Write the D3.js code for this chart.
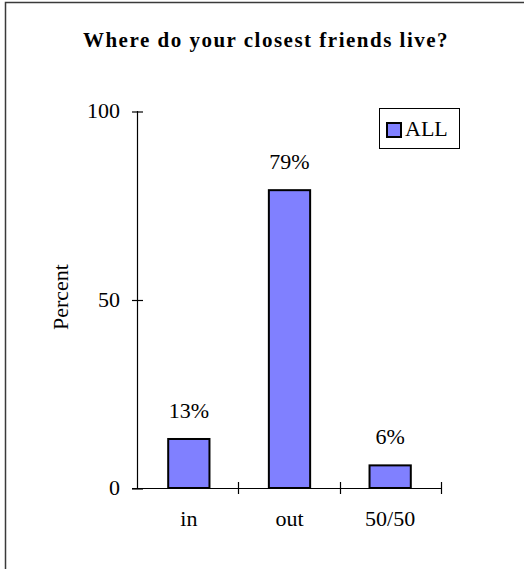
<!DOCTYPE html>
<html>
<head>
<meta charset="utf-8">
<script src="https://cdn.jsdelivr.net/npm/d3@7/dist/d3.min.js"></script>
<style>
  html, body { margin: 0; padding: 0; background: #fff; }
  svg { display: block; }
  text { font-family: "Liberation Serif", "Times New Roman", serif; fill: #000; }
</style>
</head>
<body>
<svg id="chart" width="524" height="569"></svg>
<script>
// Survey answers
const categories = ["in", "out", "50/50"];
const percentValues = [13, 79, 6];
const yTicks = [0, 50, 100];
const seriesName = "ALL";
const chartTitle = "Where do your closest friends live?";
const yLabel = "Percent";

const svg = d3.select("#chart");
const W = 524, H = 569;
const FONT = "22px";

// outer frame (right/bottom edges fall outside the view)
svg.append("rect")
  .attr("x", 5.5).attr("y", 2.5)
  .attr("width", W + 10).attr("height", H + 10)
  .attr("fill", "#fff").attr("stroke", "#3a3a3a").attr("stroke-width", 1.5);

const plot = { left: 137, right: 441, top: 111, bottom: 488 };

const x = d3.scaleBand()
  .domain(categories)
  .range([plot.left + 1, plot.right])
  .paddingInner(0.59)
  .paddingOuter(0.3);

const y = d3.scaleLinear().domain([0, 100]).range([plot.bottom, plot.top]);

// title
svg.append("text")
  .attr("x", 266).attr("y", 47)
  .attr("text-anchor", "middle")
  .style("font-size", "21px").style("font-weight", "bold")
  .style("letter-spacing", "1.5px")
  .text(chartTitle);

// y axis
const yAxis = d3.axisLeft(y).tickValues(yTicks).tickSize(0).tickPadding(0).tickFormat(d3.format("d"));
const gy = svg.append("g").attr("transform", `translate(${plot.left},0)`).call(yAxis);
gy.select(".domain").remove();
gy.append("line").attr("x1", 0.5).attr("x2", 0.5).attr("y1", plot.top).attr("y2", plot.bottom)
  .attr("stroke", "#000").attr("stroke-width", 1.2);
gy.selectAll(".tick line").remove();
gy.selectAll(".tick").append("line")
  .attr("x1", -5).attr("x2", 6).attr("y1", 0.5).attr("y2", 0.5)
  .attr("stroke", "#000").attr("stroke-width", 1.2);
gy.selectAll(".tick text")
  .attr("x", -17).attr("dy", "0.3em")
  .style("font-size", FONT).style("font-family", "Liberation Serif, serif").attr("fill", "#000");

// x axis: baseline with ticks at category boundaries
const boundaries = categories.map((c, i) => plot.left + 1 + (i + 1) * (plot.right - plot.left) / categories.length);
const gx = svg.append("g");
gx.append("line")
  .attr("x1", plot.left - 5).attr("x2", plot.right)
  .attr("y1", plot.bottom + 0.5).attr("y2", plot.bottom + 0.5)
  .attr("stroke", "#000").attr("stroke-width", 1.2);
gx.selectAll("line.bt").data(boundaries).join("line")
  .attr("class", "bt")
  .attr("x1", d => Math.round(d) - 0.5).attr("x2", d => Math.round(d) - 0.5)
  .attr("y1", plot.bottom - 6).attr("y2", plot.bottom + 6)
  .attr("stroke", "#000").attr("stroke-width", 1.2);
gx.selectAll("text.cat").data(categories).join("text")
  .attr("class", "cat")
  .attr("x", d => x(d) + x.bandwidth() / 2)
  .attr("y", 526)
  .attr("text-anchor", "middle")
  .style("font-size", FONT)
  .text(d => d);

// y label
svg.append("text")
  .attr("transform", "translate(68,297) rotate(-90)")
  .attr("text-anchor", "middle")
  .style("font-size", FONT)
  .text(yLabel);

// bars
svg.selectAll("rect.bar").data(categories).join("rect")
  .attr("class", "bar")
  .attr("x", d => x(d))
  .attr("y", (d, i) => y(percentValues[i]))
  .attr("width", x.bandwidth())
  .attr("height", (d, i) => y(0) - y(percentValues[i]))
  .attr("fill", "#8080ff").attr("stroke", "#000").attr("stroke-width", 2);

// value labels
svg.selectAll("text.val").data(categories).join("text")
  .attr("class", "val")
  .attr("x", d => x(d) + x.bandwidth() / 2)
  .attr("y", (d, i) => y(percentValues[i]) - 21)
  .attr("text-anchor", "middle")
  .style("font-size", FONT)
  .text((d, i) => percentValues[i] + "%");

// legend
const lg = svg.append("g");
lg.append("rect").attr("x", 379.5).attr("y", 108.5).attr("width", 80).attr("height", 40)
  .attr("fill", "#fff").attr("stroke", "#000").attr("stroke-width", 1);
lg.append("rect").attr("x", 387).attr("y", 123).attr("width", 14).attr("height", 14)
  .attr("fill", "#8080ff").attr("stroke", "#000").attr("stroke-width", 2);
lg.append("text").attr("x", 405).attr("y", 136)
  .style("font-size", FONT).text(seriesName);
</script>
</body>
</html>
